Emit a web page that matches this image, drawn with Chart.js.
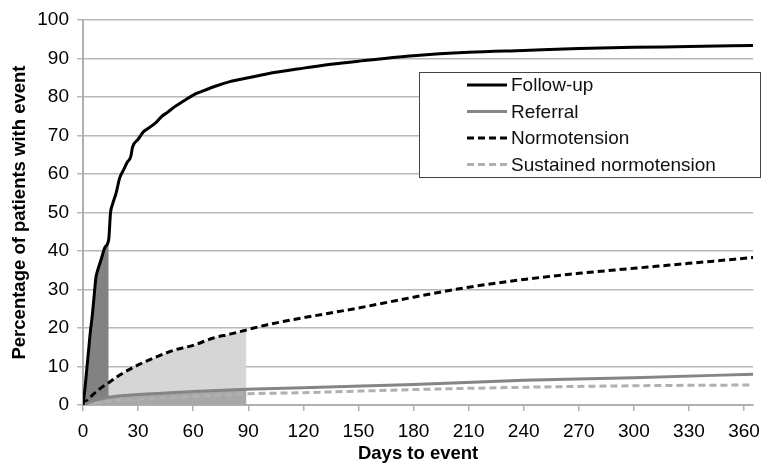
<!DOCTYPE html>
<html>
<head>
<meta charset="utf-8">
<script src="https://cdn.jsdelivr.net/npm/chart.js@4.4.0/dist/chart.umd.min.js"></script>
<style>
  html, body { margin: 0; padding: 0; background: #fff; }
  #wrap { width: 769px; height: 465px; }
</style>
</head>
<body>
<div id="wrap"><canvas id="chart" width="769" height="465"></canvas></div>
<script>
// --- DATA ---
const followUpDays = [0, 1, 2, 3, 4, 5, 6, 7, 8, 10, 12, 14, 15, 16, 18, 20, 22, 24, 26, 27, 30, 33, 36, 40, 43, 46, 50, 55, 60, 65, 72, 80, 90, 100, 120, 135, 150, 180, 210, 240, 270, 300, 330, 365];
const followUpPct  = [0, 4, 9, 14, 19, 23, 28, 33, 35, 38, 41, 43, 50, 52, 55, 59, 61, 63, 64.5, 67, 69, 71, 72, 73.5, 75, 76, 77.5, 79, 80.5, 81.5, 82.8, 84, 85, 86, 87.5, 88.5, 89.3, 90.7, 91.6, 92.1, 92.6, 92.9, 93.1, 93.4];

const normoDays = [0, 5, 10, 14, 20, 30, 40, 50, 60, 71, 80, 89, 100, 117, 150, 180, 210, 240, 270, 300, 330, 365];
const normoPct  = [0, 2.5, 4.5, 5.8, 7.8, 10.4, 12.5, 14.3, 15.5, 17.4, 18.4, 19.5, 20.8, 22.4, 25.2, 28, 30.6, 32.6, 34.2, 35.5, 36.8, 38.3];

const referralDays = [0, 5, 14, 30, 60, 89, 120, 180, 240, 300, 365];
const referralPct  = [0, 1, 2, 2.7, 3.5, 4.1, 4.5, 5.3, 6.4, 7.1, 8];

const sustainedDays = [0, 14, 30, 60, 89, 120, 180, 240, 300, 365];
const sustainedPct  = [0, 1, 1.5, 2.2, 2.9, 3.2, 4, 4.6, 5, 5.2];

// shaded windows (days)
const followUpShadeEnd = 14;
const normoShadeEnd = 89;

const xTickStep = 30;
const yTickStep = 10;

// --- HELPERS ---
function toPoints(days, vals, maxDay) {
    const pts = [];
    for (let i = 0; i < days.length; i++) {
        if (maxDay === undefined || days[i] <= maxDay) pts.push({ x: days[i], y: vals[i] });
    }
    return pts;
}

const FONT = "'Liberation Sans', Arial, sans-serif";

// legend drawn inside the plot, like the original
const boxLegend = {
    id: 'boxLegend',
    afterDatasetsDraw(chart) {
        const ctx = chart.ctx;
        const items = chart.data.datasets.filter(d => d.inLegend);
        const x0 = 419, y0 = 72, w = 341, h = 105;
        ctx.save();
        ctx.fillStyle = '#fff';
        ctx.fillRect(x0, y0, w, h);
        ctx.strokeStyle = '#444';
        ctx.lineWidth = 1;
        ctx.strokeRect(x0 + 0.5, y0 + 0.5, w, h);
        ctx.font = '19px ' + FONT;
        ctx.textBaseline = 'middle';
        ctx.fillStyle = '#111';
        items.forEach((d, i) => {
            const y = y0 + 13 + i * 26.5;
            ctx.beginPath();
            ctx.strokeStyle = d.borderColor;
            ctx.lineWidth = d.borderWidth;
            ctx.setLineDash(d.borderDash || []);
            ctx.moveTo(467, y);
            ctx.lineTo(507, y);
            ctx.stroke();
            ctx.setLineDash([]);
            ctx.fillText(d.label, 511, y + 1);
        });
        ctx.restore();
    }
};

const ctx = document.getElementById('chart').getContext('2d');
const chart = new Chart(ctx, {
    type: 'line',
    data: {
        datasets: [
            { label: 'Follow-up', inLegend: true, data: toPoints(followUpDays, followUpPct), borderColor: '#000', borderWidth: 3, fill: false },
            { label: 'Referral', inLegend: true, data: toPoints(referralDays, referralPct), borderColor: '#858585', borderWidth: 3, fill: false },
            { label: 'Normotension', inLegend: true, data: toPoints(normoDays, normoPct), borderColor: '#000', borderWidth: 3, borderDash: [7, 4], fill: false },
            { label: 'Sustained normotension', inLegend: true, data: toPoints(sustainedDays, sustainedPct), borderColor: '#b0b0b0', borderWidth: 3, borderDash: [7, 4], fill: false },
            // shaded areas
            { label: 'ref-area', data: toPoints(referralDays, referralPct, normoShadeEnd), borderWidth: 0, backgroundColor: '#a8a8a8', fill: 'origin' },
            { label: 'fu-area', data: toPoints(followUpDays, followUpPct, followUpShadeEnd), borderWidth: 0, backgroundColor: '#828282', fill: 'origin' },
            { label: 'normo-area', data: toPoints(normoDays, normoPct, normoShadeEnd), borderWidth: 0, backgroundColor: '#d6d6d6', fill: 'origin' }
        ]
    },
    options: {
        responsive: false,
        animation: false,
        elements: { point: { radius: 0 }, line: { cubicInterpolationMode: 'monotone' } },
        layout: { padding: { top: 20, right: 9, left: 0, bottom: 0 } },
        plugins: { legend: { display: false }, tooltip: { enabled: false } },
        scales: {
            x: {
                type: 'linear', min: 0, max: 365,
                ticks: { stepSize: xTickStep, includeBounds: false, color: '#000', font: { family: FONT, size: 19 }, maxRotation: 0, padding: 9 },
                grid: { drawOnChartArea: false, drawTicks: true, tickLength: 6, color: '#b0b0b0', lineWidth: 1.5 },
                border: { color: '#b0b0b0', width: 2 },
                title: { display: true, text: 'Days to event', color: '#000', font: { family: FONT, size: 18.5, weight: 'bold' }, padding: { top: 0, bottom: 0 } },
                afterFit(s) { s.height = 60; }
            },
            y: {
                min: 0, max: 100,
                ticks: { stepSize: yTickStep, color: '#000', font: { family: FONT, size: 19 }, padding: 8 },
                grid: { drawTicks: true, tickLength: 6, color: '#b8b8b8', lineWidth: 1.5 },
                border: { color: '#b0b0b0', width: 2 },
                title: { display: true, text: 'Percentage of patients with event', color: '#000', font: { family: FONT, size: 18.5, weight: 'bold' }, padding: { top: 9, bottom: 0 } },
                afterFit(s) { s.width = 83; }
            }
        }
    },
    plugins: [boxLegend]
});
</script>
</body>
</html>
